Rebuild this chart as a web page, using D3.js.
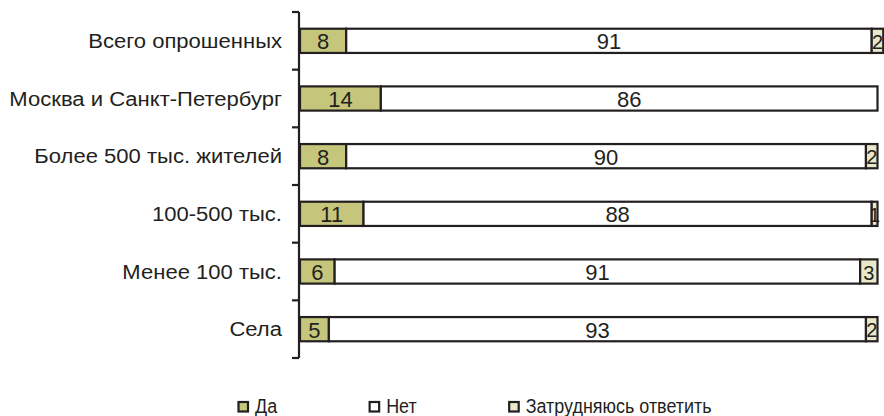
<!DOCTYPE html>
<html>
<head>
<meta charset="utf-8">
<script src="https://cdn.jsdelivr.net/npm/d3@7"></script>
<style>
  html, body { margin: 0; padding: 0; background: #ffffff; }
  svg { display: block; }
  text { font-family: "Liberation Sans", Arial, sans-serif; fill: #231f20; }
</style>
</head>
<body>
<svg id="chart" width="884" height="416"></svg>
<script>
const categories = ["Всего опрошенных", "Москва и Санкт-Петербург", "Более 500 тыс. жителей", "100-500 тыс.", "Менее 100 тыс.", "Села"];
const seriesNames = ["Да", "Нет", "Затрудняюсь ответить"];
const yes = [8, 14, 8, 11, 6, 5];
const no = [91, 86, 90, 88, 91, 93];
const unsure = [2, 0, 2, 1, 3, 2];

const colors = ["#c5c67b", "#ffffff", "#e9e9c9"];
const ink = "#231f20";
const labelStretch = 1.13;   // reference typeface is wider than Liberation Sans
const legendStretch = 0.92;  // legend typeface is condensed

const svg = d3.select("#chart");

const x = d3.scaleLinear().domain([0, 100]).range([300, 877.5]);
const y = d3.scaleBand().domain(categories).range([12, 358]).paddingInner(0.58).paddingOuter(0.29);

const rows = categories.map((c, i) => ({ cat: c, vals: [yes[i], no[i], unsure[i]] }));

function stretch(t, k) {
  const w = t.node().getComputedTextLength();
  t.attr("textLength", w * k).attr("lengthAdjust", "spacingAndGlyphs");
  return w * k;
}

// bars
rows.forEach(r => {
  let cum = 0;
  r.vals.forEach((v, k) => {
    if (v <= 0) return;
    const x0 = x(cum), x1 = x(cum + v);
    svg.append("rect")
      .attr("x", x0).attr("y", y(r.cat))
      .attr("width", x1 - x0).attr("height", y.bandwidth())
      .attr("fill", colors[k]).attr("stroke", ink).attr("stroke-width", 2.2);
    svg.append("text")
      .attr("x", (x0 + x1) / 2).attr("y", y(r.cat) + y.bandwidth() / 2)
      .attr("text-anchor", "middle").attr("dominant-baseline", "central")
      .attr("dy", "0.05em")
      .style("font-size", v < 5 ? "20px" : "22px")
      .text(v);
    cum += v;
  });
});

// axis
const step = y.step();
svg.append("line").attr("x1", 299).attr("x2", 299).attr("y1", y.range()[0]).attr("y2", y.range()[1])
  .attr("stroke", ink).attr("stroke-width", 2.2);
d3.range(categories.length + 1).forEach(i => {
  const ty = y.range()[0] + i * step;
  svg.append("line").attr("x1", 292).attr("x2", 299).attr("y1", ty).attr("y2", ty)
    .attr("stroke", ink).attr("stroke-width", 2.2);
});

// category labels
categories.forEach(c => {
  const t = svg.append("text")
    .attr("x", 282).attr("y", y(c) + y.bandwidth() / 2)
    .attr("text-anchor", "end").attr("dominant-baseline", "central")
    .style("font-size", "19.5px")
    .text(c);
  stretch(t, labelStretch);
});

// legend
let lx = 238;
const ly = 406.5;
seriesNames.forEach((n, k) => {
  svg.append("rect").attr("x", lx + 0.5).attr("y", ly - 4.5).attr("width", 9.5).attr("height", 9.5)
    .attr("fill", colors[k]).attr("stroke", ink).attr("stroke-width", 2.2);
  const t = svg.append("text").attr("x", lx + 17).attr("y", ly + 6)
    .style("font-size", "19.5px").text(n);
  const w = stretch(t, legendStretch);
  lx = lx + 17 + w + 92;
});
</script>
</body>
</html>
